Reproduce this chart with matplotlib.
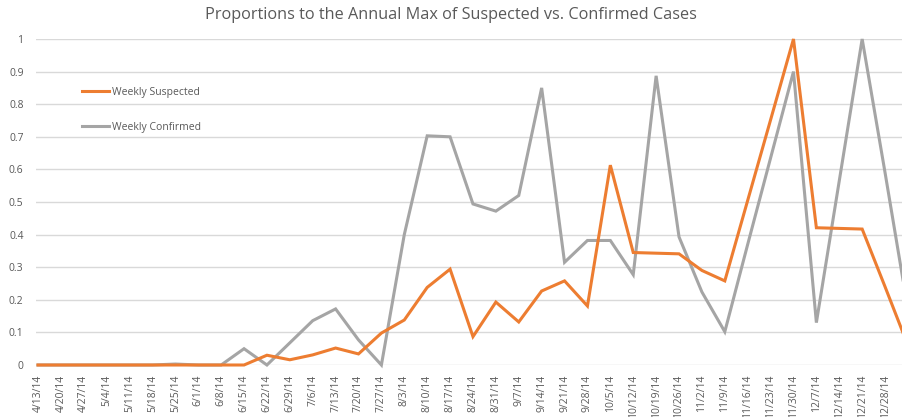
import matplotlib
matplotlib.use("Agg")
import matplotlib.pyplot as plt
from matplotlib.lines import Line2D

# weekly dates (last one falls just past the right edge of the picture)
weeks = ["4/13/14", "4/20/14", "4/27/14", "5/4/14", "5/11/14", "5/18/14", "5/25/14",
         "6/1/14", "6/8/14", "6/15/14", "6/22/14", "6/29/14", "7/6/14", "7/13/14",
         "7/20/14", "7/27/14", "8/3/14", "8/10/14", "8/17/14", "8/24/14", "8/31/14",
         "9/7/14", "9/14/14", "9/21/14", "9/28/14", "10/5/14", "10/12/14", "10/19/14",
         "10/26/14", "11/2/14", "11/9/14", "11/16/14", "11/23/14", "11/30/14",
         "12/7/14", "12/14/14", "12/21/14", "12/28/14", "1/4/15"]

suspected = [0, 0, 0, 0, 0, 0, 0, 0, 0, 0.0, 0.030, 0.016, 0.031, 0.052, 0.034,
             0.098, 0.138, 0.238, 0.294, 0.087, 0.193, 0.132, 0.227, 0.258, 0.181,
             0.613, 0.345, 0.343, 0.341, 0.290, 0.258, 0.505, 0.752, 1.0,
             0.421, 0.419, 0.417, 0.24, 0.06]

confirmed = [0, 0, 0, 0, 0, 0, 0.003, 0, 0, 0.050, 0, 0.068, 0.136, 0.172, 0.077,
             0, 0.400, 0.703, 0.700, 0.494, 0.472, 0.520, 0.850, 0.315, 0.382,
             0.382, 0.277, 0.887, 0.393, 0.224, 0.102, 0.370, 0.635, 0.900,
             0.130, 0.565, 1.0, 0.59, 0.17]

yticks = [0, 0.1, 0.2, 0.3, 0.4, 0.5, 0.6, 0.7, 0.8, 0.9, 1]
ytick_labels = ["0", "0.1", "0.2", "0.3", "0.4", "0.5", "0.6", "0.7", "0.8", "0.9", "1"]

plt.rcParams['font.family'] = ['Open Sans', 'DejaVu Sans']

W, H = 902, 417
fig = plt.figure(figsize=(W / 100, H / 100), dpi=100)
ax = fig.add_axes([36 / W, 52 / H, 866 / W, 326 / H])

x = list(range(len(weeks)))
ax.plot(x, suspected, color="#ED7D31", lw=2.2, solid_joinstyle="miter", clip_on=False, zorder=3)
ax.plot(x, confirmed, color="#A5A5A5", lw=2.2, solid_joinstyle="miter", clip_on=False, zorder=2)

ax.set_xlim(-0.087, 37.74)
ax.set_ylim(0, 1)

ax.set_yticks(yticks)
ax.set_yticklabels(ytick_labels)
ax.set_xticks(x[:-1])
ax.set_xticklabels(weeks[:-1], rotation=90)
ax.tick_params(axis="both", length=0, labelsize=7.5, labelcolor="#595959")
ax.tick_params(axis="y", pad=9)
ax.tick_params(axis="x", pad=7)

ax.yaxis.grid(True, color="#D9D9D9", lw=1)
ax.set_axisbelow(True)
for s in ax.spines.values():
    s.set_visible(False)

fig.text(0.5, 1 - 15 / H, "Proportions to the Annual Max of Suspected vs. Confirmed Cases",
         ha="center", va="center", fontsize=11.7, color="#595959")

handles = [Line2D([0], [0], color="#ED7D31", lw=2.2),
           Line2D([0], [0], color="#A5A5A5", lw=2.2)]
leg = ax.legend(handles, ["Weekly Suspected", "Weekly Confirmed"],
                loc="upper left", bbox_to_anchor=(0.047, 0.870), frameon=False,
                borderpad=0, handlelength=2.6, handletextpad=0.3, labelspacing=2.3,
                fontsize=7.5)
for t in leg.get_texts():
    t.set_color("#595959")

fig.savefig("out.png", dpi=100)
